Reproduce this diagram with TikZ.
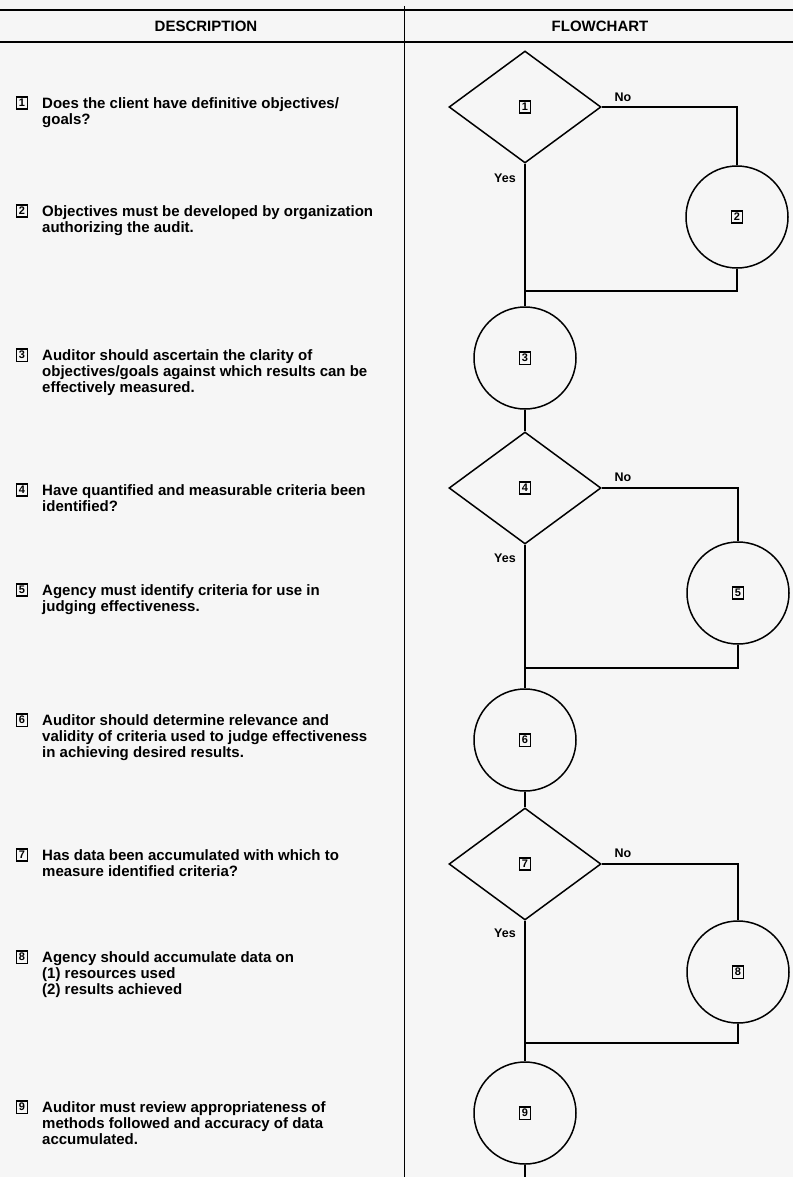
\documentclass[tikz,border=0pt]{standalone}
\usepackage{fontspec}
\setmainfont{Liberation Sans}
\usetikzlibrary{shapes.geometric}
\newcommand{\bxn}[1]{{\setlength{\fboxsep}{1.6pt}\setlength{\fboxrule}{1.4pt}\fbox{\fontsize{11}{11}\selectfont\bfseries #1}}}
\tikzset{
  dec/.style={draw, diamond, line width=1.5pt, minimum width=152pt, minimum height=112pt, inner sep=0pt},
  proc/.style={draw, circle, line width=1.5pt, minimum size=102pt, inner sep=0pt},
  conn/.style={line width=1.5pt},
  lbl/.style={font=\fontsize{12.5}{12.5}\selectfont\bfseries, inner sep=0pt},
  desc/.style={anchor=north west, align=left, inner sep=0pt, font=\fontsize{15}{16}\selectfont\bfseries},
  num/.style={inner sep=0pt},
  head/.style={font=\fontsize{15}{15}\selectfont\bfseries, inner sep=0pt},
  rule/.style={line width=1.8pt}
}
\begin{document}
\begin{tikzpicture}[x=1pt,y=-1pt]
\fill[gray!7] (0,0) rectangle (793,1177);
\useasboundingbox (0,0) rectangle (793,1177);
% header
\draw[rule] (0,10) -- (793,10);
\draw[rule] (0,42) -- (793,42);
\draw[line width=1pt] (404,6) -- (404,1177);
\node[head] (hd) at (206,26) {DESCRIPTION};
\node[head] (hf) at (600,26) {FLOWCHART};
% descriptions
\node[num] (n1) at (22,103) {\bxn{1}};
\node[desc] (t1) at (42,97) {Does the client have definitive objectives/\\goals?};
\node[num] (n2) at (22,211) {\bxn{2}};
\node[desc] (t2) at (42,205) {Objectives must be developed by organization\\authorizing the audit.};
\node[num] (n3) at (22,355) {\bxn{3}};
\node[desc] (t3) at (42,349) {Auditor should ascertain the clarity of\\objectives/goals against which results can be\\effectively measured.};
\node[num] (n4) at (22,490) {\bxn{4}};
\node[desc] (t4) at (42,484) {Have quantified and measurable criteria been\\identified?};
\node[num] (n5) at (22,590) {\bxn{5}};
\node[desc] (t5) at (42,584) {Agency must identify criteria for use in\\judging effectiveness.};
\node[num] (n6) at (22,720) {\bxn{6}};
\node[desc] (t6) at (42,714) {Auditor should determine relevance and\\validity of criteria used to judge effectiveness\\in achieving desired results.};
\node[num] (n7) at (22,855) {\bxn{7}};
\node[desc] (t7) at (42,849) {Has data been accumulated with which to\\measure identified criteria?};
\node[num] (n8) at (22,957) {\bxn{8}};
\node[desc] (t8) at (42,951) {Agency should accumulate data on\\(1) resources used\\(2) results achieved};
\node[num] (n9) at (22,1107) {\bxn{9}};
\node[desc] (t9) at (42,1101) {Auditor must review appropriateness of\\methods followed and accuracy of data\\accumulated.};
% flowchart
\node[dec] (d1) at (525,107) {\bxn{1}};
\node[proc] (c2) at (737,217) {\bxn{2}};
\node[proc] (c3) at (525,358) {\bxn{3}};
\node[dec] (d4) at (525,488) {\bxn{4}};
\node[proc] (c5) at (738,593) {\bxn{5}};
\node[proc] (c6) at (525,740) {\bxn{6}};
\node[dec] (d7) at (525,864) {\bxn{7}};
\node[proc] (c8) at (738,972) {\bxn{8}};
\node[proc] (c9) at (525,1113) {\bxn{9}};
\coordinate (j1) at (525,291);
\coordinate (j2) at (525,668);
\coordinate (j3) at (525,1043);
\coordinate (e9) at (525,1177);
% connectors
\draw[conn] (d1.east) -| (c2.north);
\draw[conn] (c2.south) |- (j1);
\draw[conn] (d1.south) -- (c3.north);
\draw[conn] (c3.south) -- (d4.north);
\draw[conn] (d4.east) -| (c5.north);
\draw[conn] (c5.south) |- (j2);
\draw[conn] (d4.south) -- (c6.north);
\draw[conn] (c6.south) -- (d7.north);
\draw[conn] (d7.east) -| (c8.north);
\draw[conn] (c8.south) |- (j3);
\draw[conn] (d7.south) -- (c9.north);
\draw[conn] (c9.south) -- (e9);
% labels
\node[lbl] (no1) at (623,97) {No};
\node[lbl] (ye1) at (505,178) {Yes};
\node[lbl] (no4) at (623,477) {No};
\node[lbl] (ye4) at (505,558) {Yes};
\node[lbl] (no7) at (623,853) {No};
\node[lbl] (ye7) at (505,933) {Yes};
\end{tikzpicture}
\end{document}
